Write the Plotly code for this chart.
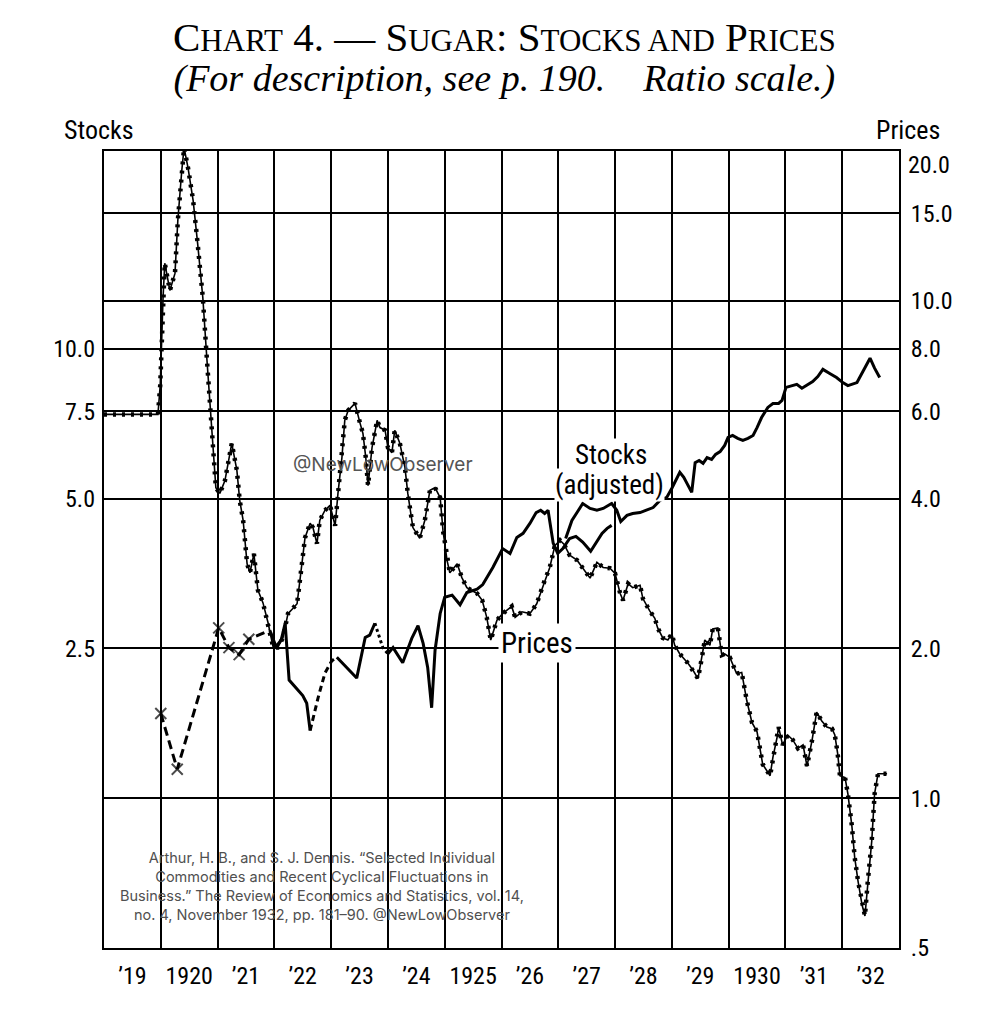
import math
import plotly.graph_objects as go

# ---------------- data ----------------
price_years = [1919.00, 1919.95, 1919.99, 1920.02, 1920.04, 1920.07, 1920.16, 1920.25, 1920.30, 1920.37,
               1920.41, 1920.48, 1920.57, 1920.65, 1920.74, 1920.81, 1920.87, 1920.92, 1920.97, 1921.04,
               1921.13, 1921.25, 1921.34, 1921.39, 1921.45, 1921.52, 1921.57, 1921.64, 1921.71, 1921.80,
               1921.89, 1921.98, 1922.06, 1922.15, 1922.24, 1922.33, 1922.40, 1922.45, 1922.49, 1922.54,
               1922.63, 1922.68, 1922.75, 1922.80, 1922.89, 1922.98, 1923.07, 1923.12, 1923.19, 1923.24,
               1923.30, 1923.42, 1923.51, 1923.56, 1923.61, 1923.65, 1923.72, 1923.81, 1923.86, 1923.95,
               1924.00, 1924.07, 1924.12, 1924.21, 1924.30, 1924.35, 1924.44, 1924.56, 1924.65, 1924.74,
               1924.83, 1924.92, 1924.97, 1925.04, 1925.09, 1925.22, 1925.30, 1925.39, 1925.57, 1925.66,
               1925.74, 1925.81, 1925.92, 1926.02, 1926.18, 1926.24, 1926.36, 1926.50, 1926.62, 1926.76,
               1926.85, 1926.94, 1927.03, 1927.10, 1927.20, 1927.33, 1927.43, 1927.56, 1927.68, 1927.79,
               1927.91, 1928.00, 1928.09, 1928.14, 1928.23, 1928.31, 1928.44, 1928.49, 1928.61, 1928.70,
               1928.75, 1928.84, 1928.93, 1929.00, 1929.05, 1929.14, 1929.28, 1929.37, 1929.46, 1929.53,
               1929.58, 1929.67, 1929.72, 1929.81, 1929.88, 1929.93, 1930.02, 1930.14, 1930.23, 1930.32,
               1930.41, 1930.50, 1930.60, 1930.73, 1930.78, 1930.85, 1930.88, 1930.95, 1931.04, 1931.13,
               1931.22, 1931.31, 1931.38, 1931.47, 1931.55, 1931.64, 1931.73, 1931.82, 1931.87, 1931.92,
               1931.96, 1932.05, 1932.10, 1932.17, 1932.22, 1932.28, 1932.35, 1932.40, 1932.45, 1932.52,
               1932.57, 1932.63, 1932.79]
price_values = [5.91, 5.91, 6.76, 8.84, 10.15, 11.9, 10.49, 11.35, 14.5, 18.3,
                20.3, 18.5, 15.9, 13.0, 10.15, 7.69, 6.10, 5.07, 4.21, 4.10,
                4.35, 5.17, 4.56, 3.97, 3.62, 2.96, 2.84, 3.10, 2.62, 2.47,
                2.25, 2.01, 2.01, 2.10, 2.35, 2.41, 2.46, 2.74, 3.01, 3.34,
                3.57, 3.50, 3.25, 3.62, 3.79, 3.88, 3.53, 4.10, 4.84, 5.75,
                6.02, 6.22, 5.67, 5.41, 4.84, 4.25, 5.07, 5.75, 5.56, 5.49,
                5.07, 4.95, 5.49, 5.17, 4.62, 4.10, 3.50, 3.33, 3.62, 4.16,
                4.21, 4.02, 3.45, 3.01, 2.84, 2.96, 2.78, 2.65, 2.58, 2.50,
                2.31, 2.08, 2.28, 2.35, 2.43, 2.31, 2.37, 2.35, 2.46, 2.74,
                2.91, 3.22, 3.30, 3.24, 3.08, 3.01, 2.90, 2.77, 2.98, 2.91,
                2.90, 2.83, 2.58, 2.50, 2.70, 2.65, 2.68, 2.52, 2.38, 2.30,
                2.20, 2.10, 2.08, 2.14, 2.03, 1.95, 1.87, 1.81, 1.74, 1.92,
                2.08, 2.03, 2.19, 2.20, 1.94, 1.95, 1.92, 1.78, 1.79, 1.57,
                1.42, 1.36, 1.17, 1.11, 1.21, 1.32, 1.39, 1.28, 1.34, 1.31,
                1.26, 1.28, 1.16, 1.31, 1.49, 1.43, 1.39, 1.38, 1.34, 1.23,
                1.11, 1.10, 1.02, 0.88, 0.76, 0.68, 0.61, 0.58, 0.68, 0.82,
                1.02, 1.12, 1.12]

# stocks, 1920-21 (dashed, crosses mark reported points)
stock_early_years = [1920.00, 1920.29, 1921.02, 1921.20, 1921.38, 1921.55, 1921.92]
stock_early_values = [1.85, 1.43, 2.75, 2.51, 2.43, 2.61, 2.72]
stock_early_marked = [True, True, True, True, True, True, False]

# stocks, solid 1922
stock_a_years = [1921.92, 1922.03, 1922.12, 1922.19, 1922.26, 1922.50, 1922.57, 1922.63]
stock_a_values = [2.72, 2.52, 2.60, 2.81, 2.16, 2.01, 1.94, 1.71]

# stocks, broken 1922-23
stock_b_years = [1922.63, 1922.77, 1922.89, 1923.01, 1923.10]
stock_b_values = [1.71, 1.99, 2.23, 2.36, 2.40]

# stocks, solid 1923
stock_c_years = [1923.10, 1923.21, 1923.45, 1923.60, 1923.68, 1923.77]
stock_c_values = [2.40, 2.33, 2.18, 2.63, 2.66, 2.81]

# stocks, dotted end of 1923
stock_d_years = [1923.77, 1923.91, 1924.00]
stock_d_values = [2.81, 2.51, 2.44]

# stocks, solid 1924-1927
stock_e_years = [1924.00, 1924.09, 1924.26, 1924.42, 1924.53, 1924.62, 1924.70, 1924.77, 1924.83, 1924.92,
                 1925.00, 1925.13, 1925.27, 1925.39, 1925.57, 1925.67, 1925.85, 1926.02, 1926.15, 1926.27,
                 1926.38, 1926.50, 1926.61, 1926.69, 1926.76, 1926.82, 1926.91, 1926.99, 1927.08, 1927.20,
                 1927.31, 1927.43, 1927.57, 1927.66, 1927.77, 1927.86, 1927.94]
stock_e_values = [2.44, 2.51, 2.34, 2.62, 2.78, 2.56, 2.29, 1.90, 2.48, 2.94,
                  3.17, 3.20, 3.06, 3.24, 3.29, 3.36, 3.64, 3.97, 3.88, 4.18,
                  4.26, 4.46, 4.69, 4.74, 4.67, 4.74, 4.07, 3.88, 3.97, 4.16,
                  4.20, 4.09, 3.92, 4.07, 4.26, 4.36, 4.42]

# stocks (adjusted), 1927-1932
stock_adj_years = [1927.13, 1927.24, 1927.33, 1927.43, 1927.56, 1927.68, 1927.79, 1927.94, 1928.03, 1928.10,
                   1928.21, 1928.31, 1928.44, 1928.56, 1928.67, 1928.79, 1928.91, 1929.00, 1929.09, 1929.14,
                   1929.21, 1929.28, 1929.35, 1929.41, 1929.48, 1929.55, 1929.62, 1929.70, 1929.77, 1929.85,
                   1929.93, 1929.99, 1930.07, 1930.16, 1930.25, 1930.34, 1930.43, 1930.50, 1930.58, 1930.69,
                   1930.78, 1930.88, 1930.94, 1931.01, 1931.11, 1931.20, 1931.29, 1931.39, 1931.48, 1931.57,
                   1931.66, 1931.78, 1931.90, 1932.01, 1932.10, 1932.26, 1932.35, 1932.49, 1932.57, 1932.66]
stock_adj_values = [4.16, 4.52, 4.69, 4.89, 4.78, 4.74, 4.78, 4.89, 4.74, 4.50,
                    4.63, 4.67, 4.69, 4.74, 4.80, 4.96, 5.03, 5.25, 5.52, 5.65,
                    5.52, 5.34, 5.15, 5.91, 5.97, 5.89, 6.05, 6.00, 6.14, 6.22,
                    6.40, 6.64, 6.70, 6.61, 6.55, 6.61, 6.70, 6.95, 7.28, 7.63,
                    7.77, 7.77, 7.88, 8.37, 8.44, 8.49, 8.34, 8.49, 8.60, 8.80,
                    9.10, 8.93, 8.76, 8.56, 8.44, 8.56, 8.97, 9.58, 9.15, 8.76]

year_label_pos = [y + 0.5 for y in range(1919, 1933)]
year_labels = ["\u201919", "1920", "\u201921", "\u201922", "\u201923", "\u201924", "1925",
               "\u201926", "\u201927", "\u201928", "\u201929", "1930", "\u201931", "\u201932"]
price_ticks = [0.5, 1, 2, 4, 6, 8, 10, 15, 20]
price_ticktext = [".5", "1.0", "2.0", "4.0", "6.0", "8.0", "10.0", "15.0", ""]
top_price_label = "20.0"
stock_ticks = [2.5, 5, 7.5, 10]
stock_ticktext = ["2.5", "5.0", "7.5", "10.0"]
price_range = [0.5, 20]
stock_range = [0.625, 25]

# ---------------- styling ----------------
NARROW = "Noto Sans Condensed, Roboto Condensed, Liberation Sans Narrow, Liberation Sans, Arial, sans-serif"
SERIF = "Liberation Serif, DejaVu Serif, serif"
WM = "Inter, Open Sans, sans-serif"
INK = "black"

fig = go.Figure()

# Prices: thin line with beads
fig.add_trace(go.Scatter(x=price_years, y=price_values, mode="lines", yaxis="y",
                         line=dict(color=INK, width=1.6), showlegend=False, hoverinfo="skip"))
fig.add_trace(go.Scatter(x=price_years, y=price_values, mode="lines", yaxis="y",
                         line=dict(color=INK, width=4.5, dash="3px,6px"), showlegend=False))

# Stocks
fig.add_trace(go.Scatter(x=stock_early_years, y=stock_early_values, mode="lines+markers", yaxis="y2",
                         line=dict(color=INK, width=3, dash="9px,5px"),
                         marker=dict(symbol="x-thin", size=[11 if m else 0 for m in stock_early_marked],
                                     line=dict(color=INK, width=2), color=INK),
                         showlegend=False))
fig.add_trace(go.Scatter(x=stock_a_years, y=stock_a_values, mode="lines", yaxis="y2",
                         line=dict(color=INK, width=3), showlegend=False))
fig.add_trace(go.Scatter(x=stock_b_years, y=stock_b_values, mode="lines", yaxis="y2",
                         line=dict(color=INK, width=3, dash="6px,4px"), showlegend=False))
fig.add_trace(go.Scatter(x=stock_c_years, y=stock_c_values, mode="lines", yaxis="y2",
                         line=dict(color=INK, width=3), showlegend=False))
fig.add_trace(go.Scatter(x=stock_d_years, y=stock_d_values, mode="lines", yaxis="y2",
                         line=dict(color=INK, width=3, dash="3px,3px"), showlegend=False))
fig.add_trace(go.Scatter(x=stock_e_years, y=stock_e_values, mode="lines", yaxis="y2",
                         line=dict(color=INK, width=3), showlegend=False))
fig.add_trace(go.Scatter(x=stock_adj_years, y=stock_adj_values, mode="lines", yaxis="y2",
                         line=dict(color=INK, width=3), showlegend=False))

tickfont = dict(family=NARROW, size=24, color=INK)

fig.update_layout(
    width=995, height=1026,
    margin=dict(l=104, r=96, t=151, b=78),
    paper_bgcolor="white", plot_bgcolor="white",
    xaxis=dict(range=[1919, 1933], tickmode="array", tickvals=year_label_pos, ticktext=year_labels,
               showgrid=False, zeroline=False, ticks="", tickfont=tickfont, ticklabelstandoff=5,
               showline=True, mirror=True, linecolor=INK, linewidth=2,
               minor=dict(tick0=1919, dtick=1, showgrid=True, gridcolor=INK, gridwidth=2, ticks="")),
    yaxis=dict(type="log", range=[math.log10(price_range[0]), math.log10(price_range[1])], side="right",
               tickmode="array", tickvals=price_ticks, ticktext=price_ticktext,
               showgrid=True, gridcolor=INK, gridwidth=1.6, zeroline=False, ticks="",
               tickfont=tickfont, ticklabelstandoff=5,
               showline=True, mirror=True, linecolor=INK, linewidth=2),
    yaxis2=dict(type="log", range=[math.log10(stock_range[0]), math.log10(stock_range[1])],
                overlaying="y", side="left", tickmode="array", tickvals=stock_ticks, ticktext=stock_ticktext,
                showgrid=False, zeroline=False, ticks="", tickfont=tickfont, ticklabelstandoff=8,
                showline=False),
)

sc = "font-size:31px"
title_text = (f"<span style='font-size:41px'>C<span style='{sc}'>HART</span> 4. \u2014 "
              f"S<span style='{sc}'>UGAR</span>: S<span style='{sc}'>TOCKS AND</span> "
              f"P<span style='{sc}'>RICES</span></span><br>"
              "<span style='font-size:38px'><i>(For description, see p. 190.\u00a0\u00a0\u00a0 "
              "Ratio scale.)</i></span>")

ann = [
    dict(text=title_text, x=0.504, y=1.118, font=dict(family=SERIF, size=31, color=INK)),
    dict(text="Stocks", x=-0.006, y=1.026, font=dict(family=NARROW, size=26, color=INK)),
    dict(text="Prices", x=1.011, y=1.026, font=dict(family=NARROW, size=26, color=INK)),
    dict(text=top_price_label, x=1.0, y=0.982, xanchor="left", xshift=7, font=tickfont),
    dict(text="Stocks", x=0.638, y=0.619, font=dict(family=NARROW, size=27, color=INK),
         bgcolor="white", borderpad=0),
    dict(text="(adjusted)", x=0.636, y=0.581, font=dict(family=NARROW, size=27, color=INK),
         bgcolor="white", borderpad=0),
    dict(text="Prices", x=0.545, y=0.383, font=dict(family=NARROW, size=29, color=INK),
         bgcolor="white", borderpad=2),
    dict(text="@NewLowObserver", x=0.351, y=0.607, font=dict(family=WM, size=19, color="#555555")),
    dict(text=("Arthur, H. B., and S. J. Dennis. \u201cSelected Individual<br>"
               "Commodities and Recent Cyclical Fluctuations in<br>"
               "Business.\u201d The Review of Economics and Statistics, vol. 14,<br>"
               "no. 4, November 1932, pp. 181\u201390. @NewLowObserver"),
         x=0.274, y=0.078, font=dict(family=WM, size=14.5, color="#505050")),
]
for a in ann:
    a.setdefault("xref", "paper")
    a.setdefault("yref", "paper")
    a.setdefault("showarrow", False)
    a.setdefault("xanchor", "center")
    a.setdefault("yanchor", "middle")
fig.update_layout(annotations=ann)

fig.write_html("out.html")
